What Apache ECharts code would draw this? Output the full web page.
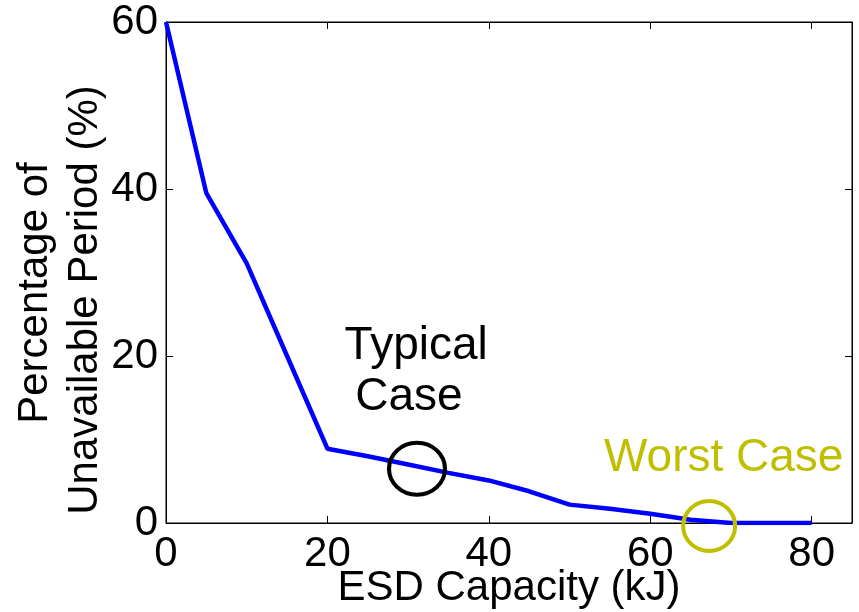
<!DOCTYPE html>
<html>
<head>
<meta charset="utf-8">
<script src="https://cdn.jsdelivr.net/npm/echarts@6/dist/echarts.min.js"></script>
<style>
  html, body { margin: 0; padding: 0; background: #fff; }
  #chart { width: 859px; height: 612px; }
</style>
</head>
<body>
<div id="chart"></div>
<script>
// ESD capacity (kJ) vs share of unavailable period (%)
const capacity = [0, 5, 10, 15, 20, 25, 30, 35, 40, 45, 50, 55, 60, 65, 70, 75, 80];
const unavailable = [60, 39.5, 31.1, 20.0, 8.9, 8.0, 7.0, 6.0, 5.1, 3.8, 2.2, 1.7, 1.1, 0.4, 0, 0, 0];

const xTicks = [0, 20, 40, 60, 80];
const yTicks = [0, 20, 40, 60];

// circled points and their captions, in data units
const typicalCircle = [31.1, 6.5];
const worstCircle = [67.3, -0.36];
const typicalNotes = [['Typical', 31.0, 21.2], ['Case', 30.1, 15.1]];
const worstNotes = [['Worst Case', 69.1, 7.7]];

const FONT = '"Liberation Sans", Arial, Helvetica, sans-serif';
const YELLOW = '#bfbf00';

const chart = echarts.init(document.getElementById('chart'), null, { renderer: 'canvas' });

const boxAxis = {
    axisLine: { show: true, onZero: false, lineStyle: { color: '#000', width: 1 } },
    axisTick: { show: true, inside: true, length: 7, lineStyle: { color: '#000', width: 1 } },
    splitLine: { show: false },
};

const noteSeries = (notes, color) => ({
    type: 'scatter',
    symbolSize: 0,
    clip: false,
    silent: true,
    z: 5,
    data: notes.map((n) => ({ value: [n[1], n[2]], name: n[0] })),
    itemStyle: { color: color, opacity: 1 },
    label: {
        show: true,
        position: 'inside',
        formatter: (p) => p.name,
        color: color,
        textBorderWidth: 0,
        fontSize: 46,
        fontFamily: FONT,
    },
});

const circleSeries = (pt, color, size) => ({
    type: 'scatter',
    symbol: 'circle',
    symbolSize: size,
    clip: false,
    silent: true,
    z: 4,
    data: [pt],
    itemStyle: { color: 'rgba(0,0,0,0)', borderColor: color, borderWidth: 4, opacity: 1 },
});

chart.setOption({
    animation: false,
    backgroundColor: '#fff',
    grid: {
        left: 166, right: 7, top: 22, bottom: 89,
        containLabel: false, outerBoundsMode: 'none',
        show: true, borderColor: '#000', borderWidth: 1, backgroundColor: 'transparent',
    },
    xAxis: [
        {
            ...boxAxis,
            type: 'value',
            position: 'bottom',
            min: 0,
            max: 85,
            interval: 20,
            axisTick: { ...boxAxis.axisTick, customValues: xTicks },
            axisLabel: {
                customValues: xTicks,
                margin: 10,
                color: '#000',
                fontSize: 42,
                fontFamily: FONT,
            },
            name: 'ESD Capacity (kJ)',
            nameLocation: 'middle',
            nameGap: 44,
            nameMoveOverlap: false,
            nameTextStyle: { color: '#000', fontSize: 42, fontFamily: FONT },
        },
        {
            ...boxAxis,
            type: 'value',
            position: 'top',
            min: 0,
            max: 85,
            interval: 20,
            axisTick: { ...boxAxis.axisTick, customValues: xTicks },
            axisLabel: { show: false },
        },
    ],
    yAxis: [
        {
            ...boxAxis,
            type: 'value',
            position: 'left',
            min: 0,
            max: 60,
            interval: 20,
            axisTick: { ...boxAxis.axisTick, customValues: yTicks },
            axisLabel: {
                customValues: yTicks,
                margin: 8,
                color: '#000',
                fontSize: 42,
                fontFamily: FONT,
            },
        },
        {
            ...boxAxis,
            type: 'value',
            position: 'right',
            min: 0,
            max: 60,
            interval: 20,
            axisTick: { ...boxAxis.axisTick, customValues: yTicks },
            axisLabel: { show: false },
        },
    ],
    graphic: [
        {
            type: 'text',
            x: 35, y: 293,
            rotation: Math.PI / 2,
            style: {
                text: 'Percentage of',
                fill: '#000',
                font: '42px ' + FONT,
                textAlign: 'center',
                textVerticalAlign: 'middle',
            },
        },
        {
            type: 'text',
            x: 85, y: 300,
            rotation: Math.PI / 2,
            style: {
                text: 'Unavailable Period (%)',
                fill: '#000',
                font: '42px ' + FONT,
                textAlign: 'center',
                textVerticalAlign: 'middle',
            },
        },
    ],
    series: [
        {
            type: 'line',
            data: capacity.map((c, i) => [c, unavailable[i]]),
            showSymbol: false,
            symbol: 'none',
            lineStyle: { color: '#0000ff', width: 4.5 },
            z: 3,
        },
        {
            // binds the mirrored top/right axes so their ticks are drawn
            type: 'line',
            xAxisIndex: 1,
            yAxisIndex: 1,
            data: capacity.map((c, i) => [c, unavailable[i]]),
            symbol: 'none',
            silent: true,
            lineStyle: { opacity: 0 },
        },
        circleSeries(typicalCircle, '#000', [56, 52]),
        circleSeries(worstCircle, YELLOW, [52, 50]),
        noteSeries(typicalNotes, '#000'),
        noteSeries(worstNotes, YELLOW),
    ],
});
</script>
</body>
</html>
